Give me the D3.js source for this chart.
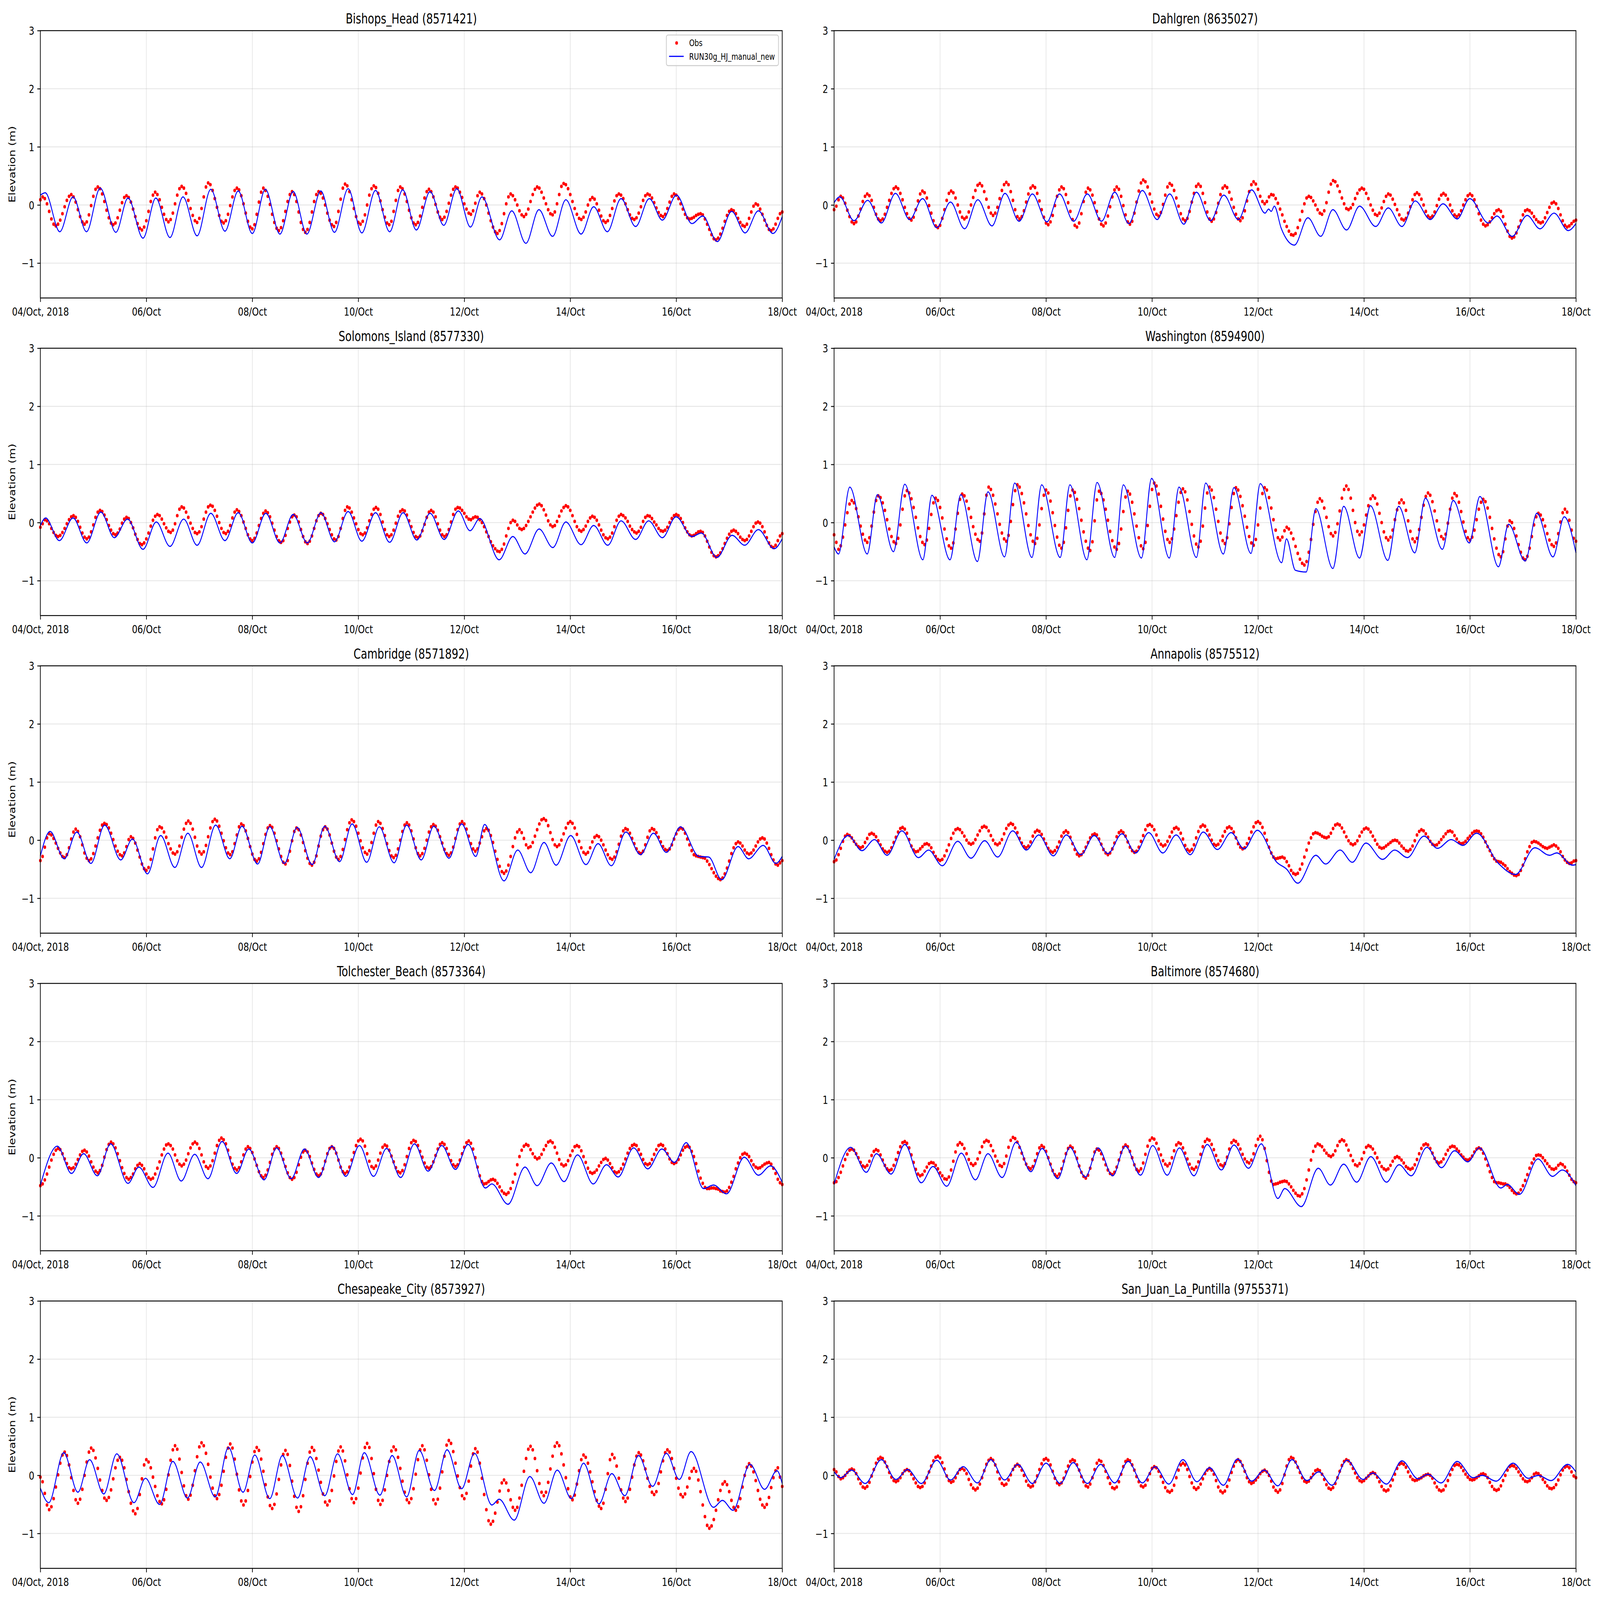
<!DOCTYPE html>
<html>
<head>
<meta charset="utf-8">
<script src="https://cdn.jsdelivr.net/npm/d3@7.9.0/dist/d3.min.js"></script>
<style>
  html, body { margin: 0; padding: 0; background: #fff; overflow: hidden; }
  svg { display: block; width: 100vw; height: 100vh; font-family: "DejaVu Sans", sans-serif; }
</style>
</head>
<body>
<svg id="chart" viewBox="0 0 7650 5850" preserveAspectRatio="none"></svg>
<script>
// station titles, panel order: left/right, top to bottom
const stationNames = [
  'Bishops_Head (8571421)', 'Dahlgren (8635027)',
  'Solomons_Island (8577330)', 'Washington (8594900)',
  'Cambridge (8571892)', 'Annapolis (8575512)',
  'Tolchester_Beach (8573364)', 'Baltimore (8574680)',
  'Chesapeake_City (8573927)', 'San_Juan_La_Puntilla (9755371)'
];
const tickDates = ['2018-10-04', '2018-10-06', '2018-10-08', '2018-10-10', '2018-10-12', '2018-10-14', '2018-10-16', '2018-10-18'];
const tickLabels = ['04/Oct, 2018', '06/Oct', '08/Oct', '10/Oct', '12/Oct', '14/Oct', '16/Oct', '18/Oct'];
const yTicks = [-1, 0, 1, 2, 3];
const legendLabels = ['Obs', 'RUN30g_HJ_manual_new'];

// Observed water level (cm), hourly from 04/Oct 00:00
const obsBishopsHead = [9,14,11,2,-11,-24,-33,-36,-33,-26,-15,-3,8,15,18,14,5,-8,-20,-29,-33,-29,-17,-1,15,27,31,28,19,6,-9,-22,-31,-34,-31,-22,-9,4,13,16,13,5,-7,-20,-32,-40,-43,-38,-27,-11,6,17,22,18,9,-4,-16,-25,-29,-25,-14,2,17,28,32,29,20,8,-6,-18,-27,-30,-23,-6,14,31,38,35,25,11,-4,-18,-28,-31,-27,-16,-1,14,25,29,26,16,2,-14,-28,-38,-41,-34,-16,5,22,29,25,15,1,-16,-30,-40,-44,-39,-27,-11,6,18,23,18,6,-12,-30,-42,-47,-42,-30,-12,6,18,23,20,12,0,-14,-26,-34,-37,-30,-11,10,29,36,33,23,9,-6,-20,-30,-33,-28,-17,0,17,28,33,30,20,7,-8,-21,-31,-34,-28,-11,8,25,31,28,19,6,-9,-22,-31,-34,-30,-19,-4,12,23,27,23,14,1,-12,-21,-25,-21,-11,3,17,27,31,29,22,13,2,-7,-14,-16,-10,3,16,22,19,11,0,-14,-27,-38,-46,-49,-44,-32,-15,2,14,19,16,9,0,-10,-17,-20,-16,-7,6,18,27,31,29,22,12,2,-8,-15,-17,-12,2,18,32,37,35,28,18,6,-6,-16,-23,-25,-21,-12,0,9,13,10,2,-9,-19,-27,-30,-27,-18,-6,7,16,19,17,11,2,-8,-17,-23,-25,-22,-14,-3,8,16,19,17,12,4,-5,-13,-18,-20,-16,-6,5,15,19,17,11,2,-7,-16,-22,-24,-23,-21,-18,-16,-15,-17,-24,-33,-42,-51,-58,-60,-57,-50,-40,-28,-18,-11,-8,-10,-15,-23,-30,-35,-37,-33,-23,-12,-2,2,0,-7,-16,-26,-35,-42,-44,-41,-33,-23,-15,-12];
const obsDahlgren = [-8,-2,9,15,12,3,-9,-20,-29,-32,-29,-19,-7,6,15,19,16,8,-4,-16,-24,-27,-24,-16,-4,8,20,28,31,28,20,9,-4,-15,-23,-26,-21,-8,7,19,24,21,12,-1,-14,-27,-36,-39,-35,-23,-8,8,20,24,21,12,0,-12,-21,-24,-21,-12,0,13,25,34,37,33,23,10,-4,-14,-18,-14,-4,11,25,35,39,35,23,8,-8,-20,-24,-20,-10,5,19,29,33,30,20,7,-8,-21,-31,-34,-29,-18,-1,15,26,31,28,18,4,-11,-25,-35,-38,-31,-15,6,22,29,26,17,4,-11,-24,-33,-36,-31,-19,-3,14,26,31,27,15,-1,-17,-29,-33,-28,-14,5,24,38,43,40,31,19,5,-7,-16,-19,-13,1,17,31,37,34,25,12,-2,-15,-24,-27,-23,-11,5,20,32,36,32,20,4,-12,-24,-28,-24,-13,3,18,29,33,30,22,10,-4,-16,-24,-27,-22,-10,7,23,35,40,36,27,15,6,2,6,14,18,17,11,3,-7,-17,-28,-37,-45,-51,-52,-49,-39,-26,-11,2,12,15,13,7,0,-8,-14,-16,-10,4,22,36,42,40,33,23,12,2,-6,-8,-5,1,11,20,26,29,27,20,11,0,-9,-16,-18,-14,-5,6,15,19,17,10,1,-8,-17,-24,-26,-23,-14,-3,9,18,21,18,10,0,-11,-19,-22,-19,-12,-1,10,17,20,17,10,0,-10,-17,-20,-17,-10,0,9,16,19,16,9,-2,-15,-26,-33,-36,-34,-29,-22,-15,-10,-8,-11,-20,-33,-45,-54,-57,-55,-48,-38,-27,-17,-10,-8,-10,-14,-20,-25,-29,-31,-29,-22,-13,-4,3,5,2,-6,-17,-27,-35,-38,-36,-32,-28,-26];
const obsSolomons = [-8,-2,5,3,-2,-10,-17,-22,-24,-22,-17,-10,-2,5,10,12,9,2,-8,-18,-25,-28,-25,-16,-4,9,18,21,19,13,5,-5,-13,-19,-21,-18,-11,-1,6,9,7,0,-9,-20,-29,-36,-38,-35,-28,-18,-6,4,11,14,12,6,-2,-9,-15,-17,-13,-2,12,23,27,25,18,9,-1,-10,-17,-19,-16,-7,6,18,27,30,28,21,11,0,-10,-17,-19,-15,-5,8,18,22,19,12,1,-10,-21,-28,-31,-27,-18,-5,7,16,20,17,10,-1,-13,-24,-31,-34,-31,-22,-10,1,10,13,10,1,-12,-24,-33,-36,-32,-23,-10,3,12,16,14,7,-2,-12,-21,-28,-30,-24,-10,7,21,27,25,18,8,-2,-12,-19,-21,-18,-9,3,14,23,26,23,14,1,-12,-21,-24,-21,-13,-1,11,19,22,20,13,3,-7,-17,-24,-26,-23,-14,-3,9,18,21,18,10,-2,-13,-21,-24,-21,-12,1,14,23,26,25,21,16,10,6,5,8,10,9,5,0,-7,-16,-24,-33,-40,-45,-49,-50,-46,-37,-23,-10,0,4,2,-4,-10,-12,-10,-5,2,10,18,25,30,32,29,22,13,3,-4,-7,-5,2,11,20,26,29,27,21,12,2,-7,-13,-15,-12,-6,2,8,11,9,4,-4,-13,-21,-26,-28,-25,-18,-7,4,11,14,12,8,2,-6,-12,-16,-18,-15,-8,2,9,12,11,7,1,-4,-10,-14,-15,-13,-8,0,7,12,14,12,7,0,-9,-16,-21,-23,-22,-19,-16,-15,-17,-23,-32,-42,-51,-57,-59,-57,-52,-45,-36,-27,-20,-15,-13,-15,-19,-25,-29,-31,-29,-23,-15,-7,-1,1,-1,-7,-16,-26,-35,-41,-43,-39,-31,-23,-19];
const obsWashington = [-21,-34,-46,-40,-25,-4,17,32,38,34,24,10,-6,-20,-30,-34,-26,-6,18,38,46,43,34,21,5,-11,-24,-33,-36,-27,-4,23,46,55,51,41,26,9,-9,-24,-34,-38,-30,-10,14,34,42,38,26,8,-11,-28,-40,-44,-35,-11,16,40,49,46,37,24,9,-7,-20,-29,-32,-18,15,47,61,57,47,32,15,-3,-18,-28,-32,-22,2,31,55,65,61,50,34,15,-5,-21,-32,-36,-27,-4,24,47,56,51,37,17,-5,-25,-39,-44,-34,-9,21,46,56,52,40,24,4,-16,-32,-44,-48,-33,3,39,54,50,39,23,4,-15,-31,-42,-46,-36,-11,19,44,54,49,35,15,-6,-26,-40,-45,-34,-5,28,57,68,63,49,28,6,-15,-29,-34,-28,-11,12,35,52,58,53,39,19,-3,-23,-37,-42,-32,-6,25,51,61,56,43,23,2,-18,-31,-36,-26,-2,26,50,60,56,45,29,11,-8,-24,-35,-39,-29,-4,25,50,60,56,43,25,5,-13,-26,-30,-25,-14,-8,-11,-18,-28,-41,-53,-63,-70,-73,-67,-51,-29,-3,19,35,41,37,25,9,-7,-19,-23,-17,-2,20,42,57,63,57,42,21,0,-15,-21,-16,-4,13,29,41,46,42,32,16,0,-16,-26,-30,-25,-13,5,22,34,39,34,21,3,-15,-28,-33,-27,-12,9,30,45,51,47,36,20,3,-13,-24,-28,-20,-1,23,42,50,46,35,19,1,-15,-26,-30,-25,-13,5,23,35,40,36,25,9,-10,-28,-44,-55,-59,-50,-28,-6,3,0,-10,-23,-38,-51,-61,-64,-58,-44,-24,-4,10,16,13,5,-6,-19,-30,-38,-41,-35,-19,1,17,23,18,4,-13,-27,-32];
const obsCambridge = [-35,-28,-12,4,11,9,3,-5,-14,-22,-28,-30,-25,-13,2,14,19,15,6,-8,-22,-31,-35,-32,-23,-10,4,17,26,29,27,21,12,1,-10,-19,-25,-27,-22,-11,1,6,3,-5,-17,-29,-41,-49,-52,-47,-33,-15,4,18,23,21,14,5,-6,-15,-22,-24,-20,-10,5,19,29,33,29,19,5,-10,-20,-24,-20,-9,6,21,32,36,33,24,12,-1,-13,-22,-25,-20,-6,9,23,28,25,16,3,-11,-24,-33,-36,-32,-21,-6,10,21,25,22,12,-1,-15,-28,-38,-41,-35,-19,-1,15,21,18,9,-4,-18,-31,-40,-43,-38,-27,-10,7,18,23,19,9,-5,-19,-29,-33,-28,-16,1,18,30,35,32,24,12,-1,-13,-21,-24,-18,-4,12,26,32,29,20,8,-6,-18,-27,-30,-26,-15,0,15,26,30,26,16,2,-13,-23,-27,-23,-14,0,14,23,27,24,17,6,-5,-16,-23,-26,-22,-12,3,18,28,32,28,19,7,-6,-15,-19,-15,-5,6,16,20,17,8,-4,-19,-33,-45,-54,-57,-53,-43,-28,-11,4,14,18,13,3,-8,-13,-11,-4,7,18,28,35,37,34,25,13,1,-8,-11,-8,0,11,21,29,32,29,21,10,-2,-13,-21,-24,-21,-13,-3,5,8,6,0,-8,-17,-25,-31,-33,-29,-20,-7,7,16,20,18,12,3,-6,-15,-21,-23,-19,-8,5,16,20,18,13,5,-3,-11,-16,-18,-15,-8,2,11,18,21,19,12,2,-8,-18,-25,-27,-28,-29,-30,-31,-36,-42,-49,-56,-62,-66,-68,-65,-58,-48,-36,-23,-13,-6,-3,-5,-10,-17,-22,-24,-22,-17,-10,-3,2,4,2,-5,-14,-25,-34,-41,-43,-39,-35];
const obsAnnapolis = [-37,-34,-25,-14,-2,7,10,8,4,-2,-7,-11,-13,-11,-4,3,10,12,10,6,-1,-8,-15,-19,-21,-19,-13,-4,5,14,20,22,19,12,1,-10,-17,-20,-19,-15,-11,-7,-6,-8,-13,-21,-28,-33,-35,-33,-27,-18,-8,3,12,18,20,18,13,7,0,-5,-7,-5,1,9,16,22,24,22,16,8,0,-6,-8,-5,1,11,20,26,29,27,21,13,3,-5,-11,-13,-10,-3,7,14,17,15,10,2,-6,-14,-19,-21,-18,-12,-3,7,13,16,13,5,-6,-16,-24,-27,-25,-20,-12,-4,4,9,11,9,2,-7,-16,-22,-25,-22,-15,-5,6,13,16,13,7,-3,-12,-18,-21,-19,-12,-2,8,18,25,27,24,18,9,-1,-7,-10,-8,-2,6,14,20,22,19,12,2,-9,-16,-19,-16,-8,4,15,23,26,24,17,9,0,-7,-9,-7,-1,7,15,21,23,20,14,4,-6,-12,-15,-13,-6,3,14,23,30,32,29,22,12,0,-12,-22,-29,-32,-31,-30,-29,-31,-37,-44,-52,-57,-59,-57,-50,-41,-29,-17,-5,4,11,13,12,10,7,5,4,6,12,20,26,28,26,21,14,6,-1,-6,-8,-6,-1,7,14,19,21,19,14,7,0,-7,-12,-14,-13,-10,-7,-4,-1,0,-1,-5,-10,-14,-18,-19,-16,-10,-1,9,15,18,16,11,5,-2,-7,-9,-8,-4,1,6,11,15,16,14,8,2,-4,-6,-5,-2,3,7,12,15,16,15,11,5,-3,-11,-18,-26,-32,-36,-37,-38,-41,-44,-49,-54,-57,-60,-61,-59,-52,-43,-32,-20,-11,-4,-2,-3,-5,-8,-11,-13,-14,-12,-10,-8,-10,-14,-20,-28,-34,-38,-40,-39,-36,-35];
const obsTolchester = [-48,-45,-38,-28,-16,-4,6,13,16,14,7,-2,-10,-17,-19,-17,-11,-3,5,11,13,10,3,-7,-16,-23,-26,-22,-13,1,14,23,27,24,17,7,-5,-17,-27,-34,-37,-34,-28,-19,-13,-10,-13,-19,-28,-34,-37,-35,-28,-18,-7,5,15,22,24,21,15,5,-5,-11,-14,-11,-4,7,17,24,27,24,16,5,-7,-15,-18,-14,-5,8,21,30,34,31,24,13,0,-11,-18,-21,-17,-7,5,15,19,16,9,-2,-13,-24,-31,-34,-30,-21,-8,6,15,19,16,8,-3,-15,-26,-34,-37,-34,-25,-12,1,10,13,10,2,-9,-20,-28,-31,-28,-19,-6,7,16,19,16,8,-4,-16,-24,-27,-24,-16,-4,9,21,29,32,29,20,7,-6,-15,-18,-14,-4,8,18,22,20,13,3,-7,-17,-24,-26,-22,-12,2,16,26,30,28,21,11,1,-9,-16,-18,-15,-7,4,15,23,26,23,16,6,-5,-12,-15,-12,-4,7,18,26,29,25,15,0,-16,-31,-41,-45,-44,-41,-38,-37,-39,-44,-50,-57,-61,-63,-60,-53,-42,-28,-12,2,13,20,23,21,14,7,1,-2,0,6,14,21,27,29,26,18,8,-3,-11,-14,-12,-5,4,12,19,21,19,12,2,-8,-18,-25,-27,-25,-21,-14,-8,-3,-1,-4,-10,-17,-24,-26,-24,-19,-11,-2,8,16,21,23,21,14,6,-3,-10,-12,-10,-3,6,14,21,23,21,15,7,-2,-8,-10,-8,-3,5,13,18,20,18,11,2,-10,-23,-35,-44,-51,-53,-53,-52,-52,-53,-54,-57,-58,-59,-57,-51,-42,-32,-19,-9,0,6,8,6,2,-5,-12,-16,-18,-17,-14,-11,-9,-8,-11,-18,-27,-37,-43,-46];
const obsBaltimore = [-43,-41,-34,-25,-14,-3,6,13,15,13,7,0,-8,-14,-16,-13,-6,4,11,14,12,5,-4,-13,-19,-22,-20,-13,-3,9,19,26,28,25,17,5,-8,-20,-28,-31,-29,-23,-16,-10,-8,-9,-13,-19,-26,-31,-36,-37,-33,-21,-6,10,22,26,23,16,7,-3,-10,-13,-10,-2,9,19,27,30,28,21,12,3,-6,-13,-15,-10,3,18,30,35,33,27,18,8,-2,-11,-17,-19,-15,-5,7,17,21,18,11,0,-11,-22,-29,-32,-28,-19,-6,7,16,20,17,10,-1,-14,-25,-32,-35,-30,-18,-3,10,15,13,7,-2,-12,-21,-27,-29,-25,-16,-4,9,18,22,19,11,0,-12,-20,-23,-19,-9,6,20,30,34,32,25,15,5,-5,-11,-14,-10,0,12,22,26,24,17,8,-2,-11,-18,-20,-16,-7,6,19,28,32,30,23,14,4,-5,-12,-14,-10,1,15,26,30,28,23,15,6,-2,-7,-9,-4,7,21,32,37,31,16,-5,-25,-40,-46,-45,-44,-42,-41,-40,-41,-45,-50,-56,-61,-65,-66,-62,-53,-38,-21,-4,11,20,24,22,19,13,8,4,2,5,12,21,28,31,29,22,13,4,-5,-12,-14,-10,-2,9,18,21,19,15,8,0,-8,-15,-19,-21,-19,-13,-6,0,2,0,-4,-9,-15,-18,-20,-18,-12,-3,7,16,22,24,22,16,8,-1,-7,-9,-7,-2,6,13,18,20,19,15,11,5,1,-3,-4,-2,3,10,15,17,15,8,-2,-13,-24,-34,-41,-43,-43,-44,-45,-45,-47,-51,-56,-60,-62,-61,-55,-48,-39,-29,-18,-9,-2,4,5,4,0,-5,-10,-15,-19,-20,-18,-13,-10,-12,-16,-23,-30,-37,-41,-43];
const obsChesapeake = [-3,-11,-31,-51,-59,-54,-40,-20,1,21,35,40,34,18,-4,-26,-42,-48,-41,-24,0,23,40,47,43,30,12,-8,-26,-39,-43,-38,-25,-6,13,26,31,26,13,-7,-28,-48,-61,-66,-57,-33,-6,18,27,23,13,-3,-19,-35,-45,-49,-42,-24,1,26,44,51,45,28,5,-18,-35,-41,-34,-17,8,32,49,56,51,38,19,-3,-22,-35,-40,-33,-17,7,31,47,54,47,28,2,-25,-44,-51,-44,-26,-2,23,41,48,43,28,7,-16,-37,-52,-57,-50,-32,-7,18,36,43,36,17,-10,-36,-55,-62,-54,-35,-7,21,40,48,43,29,9,-12,-32,-46,-51,-44,-26,-1,24,42,49,42,25,1,-23,-40,-47,-40,-22,4,30,48,55,48,29,3,-24,-43,-50,-43,-25,0,24,42,49,44,31,12,-10,-29,-42,-47,-40,-23,2,27,44,51,44,26,1,-24,-42,-49,-41,-22,6,33,52,60,55,41,21,-1,-21,-35,-40,-31,-10,16,37,46,40,21,-5,-33,-59,-78,-84,-79,-65,-46,-27,-13,-8,-13,-26,-42,-55,-60,-55,-39,-17,7,29,45,50,44,29,8,-14,-29,-35,-29,-12,11,33,50,56,51,37,18,-4,-23,-37,-42,-34,-15,8,27,35,31,21,6,-11,-28,-43,-53,-57,-48,-24,3,27,36,30,16,-5,-25,-39,-45,-39,-24,-3,18,33,39,35,25,11,-5,-19,-29,-33,-28,-14,6,25,39,44,40,29,12,-5,-22,-33,-37,-32,-20,-5,7,12,7,-8,-28,-51,-71,-86,-91,-87,-76,-60,-42,-26,-15,-11,-16,-28,-43,-55,-60,-54,-40,-20,0,14,20,16,6,-9,-26,-41,-51,-55,-50,-38,-21,-4,8,13,-3,-19];
const obsSanJuan = [10,6,-2,-6,-4,0,5,9,11,9,3,-6,-14,-20,-22,-19,-12,-1,10,21,28,31,29,23,15,5,-3,-9,-11,-9,-4,3,8,10,8,2,-6,-13,-19,-21,-19,-13,-4,6,16,25,31,33,30,22,11,-1,-9,-12,-10,-4,4,10,12,9,3,-7,-16,-22,-25,-22,-15,-4,8,19,26,29,26,18,6,-6,-14,-17,-15,-8,1,10,16,19,16,9,0,-10,-17,-20,-18,-11,-1,10,20,27,29,26,18,7,-5,-13,-16,-13,-5,6,16,24,27,25,18,9,-2,-11,-18,-20,-15,-4,10,21,26,24,17,7,-4,-14,-21,-23,-20,-11,2,15,24,27,25,18,9,-2,-11,-18,-20,-17,-8,3,12,15,13,7,-2,-12,-21,-27,-29,-26,-17,-4,9,18,21,18,10,-2,-13,-21,-24,-21,-15,-6,3,9,12,9,2,-9,-20,-27,-30,-27,-19,-8,5,16,24,27,24,17,7,-4,-11,-14,-12,-8,-3,3,7,9,6,0,-10,-20,-26,-29,-25,-14,1,16,27,31,29,23,14,5,-4,-10,-12,-10,-4,2,8,10,8,2,-7,-16,-22,-24,-21,-14,-4,7,17,24,27,25,20,12,4,-4,-9,-11,-9,-5,-1,3,5,3,-3,-11,-19,-25,-27,-25,-18,-8,2,12,19,21,19,14,6,-2,-7,-9,-8,-6,-4,-1,1,2,0,-5,-13,-20,-25,-27,-25,-18,-9,1,10,17,19,18,14,8,2,-3,-7,-8,-7,-4,-1,2,3,1,-4,-12,-19,-24,-26,-24,-18,-9,0,9,15,17,16,12,6,0,-6,-10,-11,-9,-4,2,4,3,-1,-7,-12,-18,-22,-23,-21,-16,-8,1,9,14,16,13,6,-1,-4];

// Model (RUN30g_HJ_manual_new): turning points [hour from 04/Oct 00:00, cm]
const modelBishopsHead = [[0,17],[2.2,21],[8.8,-46],[14.8,14],[20.9,-46],[27.1,29],[34.2,-47],[39.7,12],[46.5,-57],[52.3,12],[58.7,-56],[64.6,14],[71,-53],[77.2,27],[83.6,-45],[89.6,24],[96,-49],[101.9,27],[108.5,-50],[114.5,23],[120.7,-50],[127,24],[133.2,-47],[139.4,28],[145.6,-48],[151.8,25],[158.2,-46],[164.1,26],[170.3,-43],[176.5,23],[182.7,-35],[188.6,28],[194.8,-38],[200,14],[208,-60],[213.5,-10],[219.9,-66],[225.8,-8],[232,-54],[238,9],[244.9,-50],[250.6,-3],[256.8,-46],[263,11],[269.6,-37],[275.8,11],[281.7,-26],[288.1,17],[295.1,-32],[300,-19],[306.6,-63],[313.1,-11],[319.2,-48],[325.2,-10],[331.8,-49],[336,-20]];
const modelDahlgren = [[0,4],[2.6,14],[9,-27],[15.2,8],[21.4,-31],[27.8,20],[34.2,-25],[40.1,11],[46.5,-39],[52.7,5],[59.1,-41],[65.1,9],[71.5,-36],[77.4,20],[83.8,-28],[89.8,19],[96.4,-29],[102.1,19],[108.5,-28],[114.7,19],[121.1,-28],[127.1,22],[133.5,-32],[139.6,25],[146.3,-25],[152,19],[158.4,-33],[164.1,22],[170.5,-27],[176.5,17],[183.1,-25],[189.1,26],[195.2,-14],[196.8,-7],[198,-11],[199.4,-2],[202.5,-40],[208.5,-69],[214.6,-22],[220.4,-54],[225.9,-8],[232.1,-43],[238,-2],[245.3,-37],[251,-5],[257.2,-37],[263.2,7],[270,-25],[275.8,2],[282.2,-24],[287.9,11],[296.3,-31],[300.2,-19],[307.1,-54],[313.9,-18],[319.7,-41],[326.1,-14],[332.5,-44],[336,-32]];
const modelSolomons = [[0,-5],[2.4,8],[8.6,-31],[14.8,8],[21,-35],[27.4,18],[33.5,-26],[39.5,6],[46.5,-46],[52.5,1],[58.7,-41],[64.9,6],[71,-39],[77.2,16],[83.6,-31],[89.6,17],[96,-35],[102.1,16],[108.5,-35],[114.5,14],[120.9,-35],[127.1,17],[133.2,-33],[139.4,19],[145.6,-32],[151.8,17],[158.2,-34],[164.3,17],[170.5,-30],[176.5,16],[182.9,-29],[189.3,20],[194.6,-14],[199,7],[207.8,-64],[214,-24],[219.5,-54],[225.9,-11],[232.1,-43],[238,1],[244.9,-38],[250.6,-5],[257,-39],[263,3],[269.6,-29],[275.5,3],[281.7,-26],[287.9,10],[295.1,-24],[299.4,-18],[306.4,-60],[313.3,-22],[319,-39],[325.2,-12],[332.3,-45],[336,-28]];
const modelWashington = [[0,-42],[2,-54],[7.1,61],[15,-54],[19.6,48],[26.9,-50],[32,66],[40.2,-64],[44.3,47],[52.5,-64],[57.4,48],[64.9,-67],[69.7,53],[77.2,-59],[81.8,68],[89.6,-60],[94,65],[102.4,-60],[106.8,65],[114.5,-64],[119.1,69],[127.1,-60],[131,65],[139.2,-61],[143.8,76],[151.8,-61],[156.2,61],[164.1,-60],[168.3,68],[176.3,-54],[181.1,60],[188.8,-53],[193,67],[202.7,-69],[204.9,-28],[208.9,-82],[213.8,-85],[218.2,24],[225.9,-79],[230.8,28],[238,-61],[242.9,29],[250.8,-65],[255.7,28],[263,-52],[267.8,42],[275.5,-46],[280.4,38],[287.7,-35],[292.5,45],[300.9,-76],[305.5,-3],[313,-66],[318.3,16],[325.6,-59],[330.7,10],[336,-52]];
const modelCambridge = [[0,-27],[4.4,15],[10.8,-32],[16.5,14],[22.9,-40],[29.1,26],[36.4,-34],[41.7,2],[48.5,-58],[54.5,8],[60.9,-47],[66.8,12],[73,-47],[79.4,26],[85.8,-32],[91.3,24],[98.4,-41],[103.9,23],[110.5,-40],[116.3,22],[123.1,-42],[128.8,24],[135.5,-37],[141.2,28],[147.8,-38],[153.5,23],[160.2,-39],[165.9,26],[172.5,-34],[178.2,24],[185.1,-31],[190.8,28],[197.2,-28],[201.2,27],[210,-70],[216.2,-17],[222.1,-56],[228.1,-4],[233.6,-43],[240.2,8],[247.1,-42],[252.6,-6],[258.6,-44],[265.2,14],[271.8,-25],[277.7,12],[283.5,-21],[289.9,23],[298.3,-28],[302.7,-29],[308.6,-68],[316,-11],[320.8,-32],[327.4,-9],[333.1,-40],[336,-28]];
const modelAnnapolis = [[0,-33],[6.4,8],[12.6,-18],[18.3,1],[24,-26],[30.7,16],[38.2,-30],[42.8,-17],[49,-44],[56,-2],[62,-31],[68.2,-1],[74.1,-29],[80.9,16],[87.1,-17],[92.7,9],[99.3,-27],[105.2,9],[111.8,-25],[117.8,8],[124,-23],[130.4,11],[136.6,-22],[142.5,13],[148.9,-22],[154.9,9],[161.3,-25],[167.2,14],[173.6,-16],[179.8,13],[185.7,-15],[191.7,17],[200.5,-38],[205,-50],[210,-74],[218.2,-26],[222.6,-41],[229.2,-17],[234.7,-38],[240.9,-5],[248.4,-33],[253.9,-17],[259.6,-30],[267.2,7],[273.3,-14],[279.5,1],[284.8,-9],[291,12],[300.9,-40],[308.6,-59],[317.4,-13],[324,-26],[327.3,-22],[334.4,-43],[336,-42]];
const modelTolchester = [[0,-47],[7.7,20],[14.1,-27],[19.6,7],[25.8,-31],[31.8,24],[39.7,-44],[44.6,-16],[51,-51],[57.8,8],[63.8,-40],[69.9,6],[75.9,-36],[82.3,28],[88.9,-27],[94.4,15],[101.3,-38],[107,17],[113.6,-36],[119.6,15],[126,-34],[132.1,20],[138.3,-32],[144.5,21],[150.9,-32],[156.8,16],[163.2,-34],[169.4,24],[175.6,-23],[181.8,21],[188,-20],[193.7,23],[201.6,-52],[204.5,-45],[211.8,-80],[219.5,-16],[225,-48],[231.4,-9],[237.2,-41],[243.3,5],[250.4,-45],[256.4,-12],[261.7,-33],[268.7,17],[275.1,-19],[281.5,15],[287.2,-8],[292.5,26],[300.4,-53],[304.9,-47],[310.8,-62],[318.8,1],[325.2,-30],[330.7,-14],[336,-42]];
const modelBaltimore = [[0,-45],[7.5,18],[14.6,-25],[19.2,7],[25.8,-28],[32,23],[39.5,-43],[44.8,-15],[51,-49],[57.6,8],[64,-38],[69.7,7],[76.1,-34],[82.5,27],[89.1,-24],[94.2,16],[101.3,-36],[106.8,18],[113.8,-33],[119.6,17],[126.2,-31],[131.9,20],[138.8,-30],[144.3,21],[150.9,-30],[156.4,17],[163,-31],[169,23],[175.4,-21],[181.1,22],[187.7,-18],[193.5,24],[201,-70],[204.1,-53],[211.6,-84],[219.3,-18],[224.8,-47],[230.8,-11],[236.7,-42],[243.1,2],[250.2,-42],[255.9,-12],[261.4,-31],[268.5,18],[275.1,-17],[281,12],[287,-7],[292.3,17],[302,-52],[304.9,-46],[310.4,-63],[318.8,-2],[325.4,-32],[329.8,-21],[336,-48]];
const modelChesapeake = [[0,-22],[3.8,-47],[10.6,39],[17,-29],[22.3,27],[28.7,-32],[34.6,37],[42.4,-47],[47.6,-5],[54,-50],[60,24],[66.6,-39],[72.4,23],[79.2,-37],[85.2,48],[91.8,-29],[97.1,35],[103.9,-40],[109.6,34],[116.5,-39],[122.2,32],[128.8,-35],[134.6,37],[141.4,-33],[146.7,39],[153.8,-34],[159.3,34],[165.9,-37],[171.6,43],[178.5,-26],[184.2,44],[190.8,-23],[196.6,38],[204.5,-51],[207.8,-41],[214.6,-77],[221.7,-2],[228.1,-48],[234.1,9],[240.5,-40],[246,21],[253,-49],[258.8,3],[264.7,-35],[270.9,34],[277.3,-19],[283.5,38],[289.4,-7],[294.7,41],[304.9,-55],[308.9,-43],[313.7,-60],[321.4,19],[328,-24],[333.6,8],[336,-14]];
const modelSanJuan = [[0,6],[3.1,-4],[7.9,9],[14.1,-14],[21.4,27],[28,-7],[33.3,10],[39.5,-14],[46.5,26],[52.7,-8],[58.5,15],[64.9,-13],[71,27],[77.2,-8],[83.2,19],[89.8,-14],[96,21],[102.4,-14],[108.3,22],[114.7,-14],[120.7,19],[127.1,-13],[133.2,24],[139.6,-13],[145.4,15],[151.6,-15],[158,27],[164.3,-11],[170.1,13],[176.3,-17],[182.7,28],[189.1,-10],[194.8,9],[201,-18],[207.4,27],[214.2,-9],[219.5,6],[225.5,-17],[232.3,26],[239.6,-7],[244,4],[250.2,-15],[257.2,25],[264.5,-6],[268.9,2],[274.9,-13],[282.2,24],[289.4,-4],[293.6,0],[299.8,-10],[307.5,21],[314.4,-5],[319,0],[324.7,-9],[332.2,19],[336,6]];

const obsSeries = [obsBishopsHead, obsDahlgren, obsSolomons, obsWashington, obsCambridge,
  obsAnnapolis, obsTolchester, obsBaltimore, obsChesapeake, obsSanJuan];
const modelSeries = [modelBishopsHead, modelDahlgren, modelSolomons, modelWashington, modelCambridge,
  modelAnnapolis, modelTolchester, modelBaltimore, modelChesapeake, modelSanJuan];

// layout (px at 300 dpi)
const COL_X = [193, 3988];
const AX_W = 3547;
const ROW_Y0 = 112;
const ROW_STEP = 1161.2;
const AX_H = 977.5;
const LW = 3.3;
const FONT = 41.7;

const t0 = Date.UTC(2018, 9, 4);
const hourToDate = h => new Date(t0 + h * 3600e3);
const ticks = tickDates.map(s => new Date(s + 'T00:00:00Z'));

const x = d3.scaleUtc().domain([hourToDate(0), hourToDate(336)]).range([0, AX_W]);
const y = d3.scaleLinear().domain([-1.6, 3]).range([AX_H, 0]);

const modelLine = d3.line()
  .x(d => x(hourToDate(d[0])))
  .y(d => y(d[1] / 100))
  .curve(d3.curveMonotoneX);

const svg = d3.select('#chart');
svg.append('rect').attr('width', 7650).attr('height', 5850).attr('fill', '#fff');

stationNames.forEach((name, i) => {
  const col = i % 2, row = Math.floor(i / 2);
  const g = svg.append('g')
    .attr('transform', `translate(${COL_X[col]},${ROW_Y0 + row * ROW_STEP})`);

  // grid
  const grid = g.append('g')
    .attr('stroke', '#b0b0b0').attr('stroke-opacity', 0.3).attr('stroke-width', LW);
  grid.selectAll('line.v').data(ticks).join('line').attr('class', 'v')
    .attr('x1', d => x(d)).attr('x2', d => x(d)).attr('y1', 0).attr('y2', AX_H);
  grid.selectAll('line.h').data(yTicks).join('line').attr('class', 'h')
    .attr('x1', 0).attr('x2', AX_W).attr('y1', d => y(d)).attr('y2', d => y(d));

  // observations
  g.append('g').selectAll('circle')
    .data(obsSeries[i])
    .join('circle')
    .attr('cx', (d, h) => x(hourToDate(h)))
    .attr('cy', d => y(d / 100))
    .attr('r', 6.5)
    .attr('fill', '#ff0000');

  // model
  g.append('path')
    .datum(modelSeries[i])
    .attr('d', modelLine)
    .attr('fill', 'none')
    .attr('stroke', '#0000ff')
    .attr('stroke-width', 4.2)
    .attr('stroke-linejoin', 'round');

  // axes
  g.append('g')
    .attr('transform', `translate(0,${AX_H})`)
    .call(d3.axisBottom(x).tickValues(ticks).tickFormat((d, k) => tickLabels[k])
      .tickSize(14.6).tickSizeOuter(0).tickPadding(20))
    .call(a => a.select('.domain').remove())
    .call(a => a.selectAll('line').attr('stroke', '#000').attr('stroke-width', LW))
    .call(a => a.selectAll('text').attr('fill', '#000'))
    .attr('font-size', FONT).attr('font-family', 'DejaVu Sans');

  g.append('g')
    .call(d3.axisLeft(y).tickValues(yTicks).tickFormat(d3.format('d'))
      .tickSize(14.6).tickSizeOuter(0).tickPadding(14))
    .call(a => a.select('.domain').remove())
    .call(a => a.selectAll('line').attr('stroke', '#000').attr('stroke-width', LW))
    .call(a => a.selectAll('text').attr('fill', '#000').attr('dy', '0.36em'))
    .attr('font-size', FONT).attr('font-family', 'DejaVu Sans');

  // frame
  g.append('rect')
    .attr('width', AX_W).attr('height', AX_H)
    .attr('fill', 'none').attr('stroke', '#000').attr('stroke-width', LW);

  // title
  g.append('text')
    .attr('x', AX_W / 2).attr('y', -26)
    .attr('text-anchor', 'middle')
    .attr('font-size', 50)
    .text(name);

  if (col === 0) {
    g.append('text')
      .attr('transform', `translate(-121,${AX_H / 2}) rotate(-90)`)
      .attr('text-anchor', 'middle')
      .attr('font-size', FONT)
      .text('Elevation (m)');
  }

  if (i === 0) {
    const lg = g.append('g').attr('transform', `translate(${AX_W - 554},16)`);
    lg.append('rect')
      .attr('width', 536).attr('height', 112).attr('rx', 8)
      .attr('fill', '#fff').attr('fill-opacity', 0.8)
      .attr('stroke', '#cccccc').attr('stroke-width', 3.5);
    lg.append('circle').attr('cx', 49).attr('cy', 29).attr('r', 6.5).attr('fill', '#ff0000');
    lg.append('line').attr('x1', 13).attr('x2', 83).attr('y1', 78).attr('y2', 78)
      .attr('stroke', '#0000ff').attr('stroke-width', 4.2);
    lg.selectAll('text.lab').data(legendLabels).join('text').attr('class', 'lab')
      .attr('x', 109).attr('y', (d, k) => 41 + k * 49)
      .attr('font-size', 33)
      .text(d => d);
  }
});
</script>
</body>
</html>
